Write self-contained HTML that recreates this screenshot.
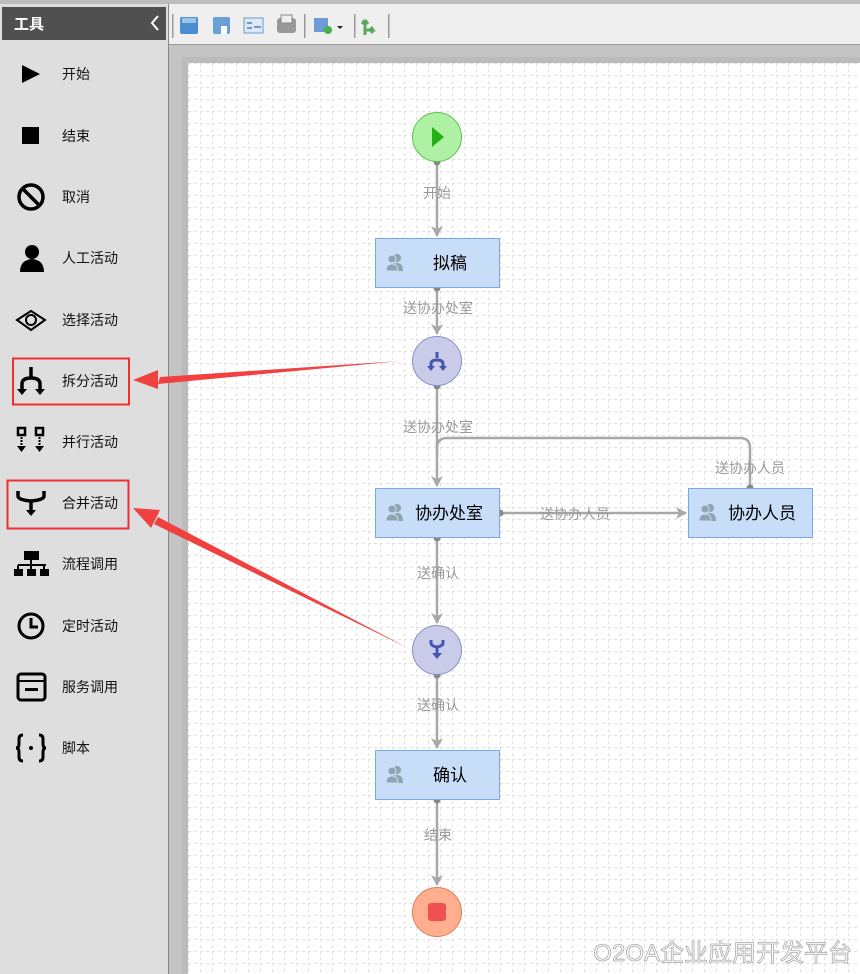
<!DOCTYPE html>
<html><head><meta charset="utf-8"><style>
html,body{margin:0;padding:0;width:860px;height:974px;overflow:hidden;font-family:"Liberation Sans","Noto Sans CJK SC",sans-serif;}
</style></head><body>
<svg width="860" height="974" viewBox="0 0 860 974" xmlns="http://www.w3.org/2000/svg" font-family="Liberation Sans, Noto Sans CJK SC, sans-serif">
<defs>
<pattern id="g" x="188" y="63" width="12" height="12" patternUnits="userSpaceOnUse">
<path d="M0 0.5H12M0.5 0V12" stroke="#e0e0e0" stroke-width="1" stroke-dasharray="3,3" fill="none"/>
</pattern>
<marker id="ar" markerWidth="12" markerHeight="12" refX="10" refY="6" orient="auto" markerUnits="userSpaceOnUse"><path d="M0 0L11 6L0 12L3 6Z" fill="#a8a8a8"/></marker>
</defs>
<rect width="860" height="974" fill="#dcdcdc"/>
<rect x="0" y="0" width="168" height="974" fill="#dedede"/>
<rect x="0" y="0" width="860" height="4" fill="#bdbdbd"/>
<rect x="2" y="7" width="164" height="33" fill="#505050"/>
<text x="14" y="29" font-size="15" font-weight="bold" fill="#fff">工具</text>
<path d="M158 16L152 23L158 30" stroke="#fff" stroke-width="2" fill="none"/>
<line x1="168.5" y1="4" x2="168.5" y2="974" stroke="#888"/>
<rect x="169" y="4" width="691" height="40" fill="#efefef"/>
<line x1="169" y1="44.5" x2="860" y2="44.5" stroke="#999"/>
<rect x="172" y="14" width="1.5" height="24" fill="#999"/>
<rect x="180" y="17" width="18" height="17" fill="#4a8ed0" rx="2"/><rect x="182" y="18" width="14" height="5" fill="#9cc4ea"/>
<rect x="213" y="17" width="17" height="17" fill="#6aa0d8" rx="2"/><rect x="221" y="26" width="6" height="8" fill="#fff"/>
<rect x="244" y="18" width="19" height="15" fill="#dfe9f5" stroke="#6a9ad0"/><rect x="247" y="22" width="5" height="2" fill="#6a9ad0"/><rect x="247" y="27" width="5" height="2" fill="#6a9ad0"/><rect x="254" y="26" width="7" height="2" fill="#6a9ad0"/>
<rect x="277" y="18" width="19" height="15" fill="#999" rx="3"/><rect x="281" y="15" width="11" height="8" fill="#eee" stroke="#888"/>
<rect x="304" y="14" width="1.5" height="24" fill="#999"/>
<rect x="314" y="18" width="14" height="14" fill="#6f9ad8"/><circle cx="328" cy="30" r="4" fill="#4caf50"/><path d="M337 26h6l-3 3z" fill="#222"/>
<rect x="354" y="14" width="1.5" height="24" fill="#999"/>
<path d="M365 35V20M365 20l-3 4M365 20l3 4M365 30h8l-2-3M373 30l-2 3" stroke="#5aa85a" stroke-width="3" fill="none"/>
<rect x="388" y="14" width="1.5" height="24" fill="#999"/>
<rect x="169" y="45" width="691" height="929" fill="#c4c4c4"/>
<rect x="182" y="57" width="678" height="917" fill="#b0b0b0" opacity="0.4"/>
<rect x="188" y="63" width="672" height="911" fill="#fff"/>
<rect x="188" y="63" width="672" height="911" fill="url(#g)"/>

<g font-size="14" fill="#111">
<path d="M22 65L40 74L22 83Z" fill="#000"/><text x="62" y="79">开始</text>
<rect x="22" y="127" width="17" height="17" fill="#000"/><text x="62" y="141">结束</text>
<circle cx="31" cy="197" r="12" stroke="#000" stroke-width="3.5" fill="none"/><line x1="23" y1="189" x2="39" y2="205" stroke="#000" stroke-width="3.5"/><text x="62" y="202">取消</text>
<circle cx="32" cy="252" r="7" fill="#000"/><path d="M20 272Q20 260 32 259Q44 260 44 272Z" fill="#000"/><text x="62" y="263">人工活动</text>
<path d="M17 320L31 311L45 320L31 330Z" stroke="#000" stroke-width="2" fill="none"/><circle cx="31" cy="320" r="5" stroke="#000" stroke-width="2" fill="none"/><text x="62" y="325">选择活动</text>
<path d="M31 367V377M22 391V384Q22 378 31 378Q40 378 40 384V391" stroke="#000" stroke-width="3.5" fill="none"/><path d="M17 389h10l-5 6zM35 389h10l-5 6z" fill="#000"/><text x="62" y="386">拆分活动</text>
<rect x="18" y="428" width="7" height="7" stroke="#000" stroke-width="2.5" fill="none"/><rect x="36" y="428" width="7" height="7" stroke="#000" stroke-width="2.5" fill="none"/><path d="M17 446h9l-4.5 6zM35 446h9l-4.5 6z" fill="#000"/><path d="M21.5 437v8M39.5 437v8" stroke="#000" stroke-width="2" stroke-dasharray="2,1"/><text x="62" y="447">并行活动</text>
<path d="M18 491V496Q18 500 31 501Q44 500 44 496V491M31 501V512" stroke="#000" stroke-width="3.5" fill="none"/><path d="M26 510h10l-5 6z" fill="#000"/><text x="62" y="508">合并活动</text>
<rect x="24" y="551" width="15" height="9" fill="#000"/><path d="M31 560v5M18 565h28M18 565v4M31 565v4M44 565v4" stroke="#000" stroke-width="2"/><rect x="14" y="569" width="9" height="7" fill="#000"/><rect x="27" y="569" width="9" height="7" fill="#000"/><rect x="40" y="569" width="9" height="7" fill="#000"/><text x="62" y="569">流程调用</text>
<circle cx="31" cy="626" r="12" stroke="#000" stroke-width="3" fill="none"/><path d="M31 618V627H38" stroke="#000" stroke-width="3" fill="none"/><text x="62" y="631">定时活动</text>
<rect x="18" y="674" width="27" height="26" rx="3" stroke="#000" stroke-width="3" fill="none"/><line x1="18" y1="681" x2="45" y2="681" stroke="#000" stroke-width="2"/><rect x="25" y="688" width="13" height="3" fill="#000"/><text x="62" y="692">服务调用</text>
<path d="M23 735Q19 735 19 739V744Q19 748 16 748Q19 748 19 752V757Q19 761 23 761M39 735Q43 735 43 739V744Q43 748 46 748Q43 748 43 752V757Q43 761 39 761" stroke="#000" stroke-width="3" fill="none"/><circle cx="31" cy="748" r="2" fill="#000"/><text x="62" y="753">脚本</text>
</g>
<rect x="13" y="358.5" width="116" height="46" stroke="#f03030" stroke-width="2" fill="none"/>
<rect x="7.5" y="480.5" width="121" height="48" stroke="#f03030" stroke-width="2" fill="none"/>

<g stroke="#a8a8a8" stroke-width="2.5" fill="none">
<line x1="437" y1="162" x2="437" y2="236" marker-end="url(#ar)"/>
<line x1="437" y1="288" x2="437" y2="334" marker-end="url(#ar)"/>
<line x1="437" y1="386" x2="437" y2="486" marker-end="url(#ar)"/>
<path d="M437 455V448Q437 438 447 438H740Q750 438 750 448V488"/>
<line x1="500" y1="513" x2="686" y2="513" marker-end="url(#ar)"/>
<line x1="437" y1="538" x2="437" y2="623" marker-end="url(#ar)"/>
<line x1="437" y1="675" x2="437" y2="748" marker-end="url(#ar)"/>
<line x1="437" y1="800" x2="437" y2="885" marker-end="url(#ar)"/>
</g>
<g fill="#888">
<circle cx="437" cy="162" r="3.5"/><circle cx="437" cy="288" r="3.5"/><circle cx="437" cy="386" r="3.5"/><circle cx="750" cy="488" r="3.5"/><circle cx="500" cy="513" r="3.5"/><circle cx="437" cy="538" r="3.5"/><circle cx="437" cy="675" r="3.5"/><circle cx="437" cy="800" r="3.5"/>
</g>
<g font-size="14" fill="#999" text-anchor="middle">
<text x="437" y="198">开始</text>
<text x="438" y="313">送协办处室</text>
<text x="438" y="432">送协办处室</text>
<text x="750" y="473">送协办人员</text>
<text x="575" y="519">送协办人员</text>
<text x="438" y="578">送确认</text>
<text x="438" y="710">送确认</text>
<text x="438" y="840">结束</text>
</g>

<circle cx="437" cy="137" r="24.5" fill="#aef0a4" stroke="#60c050"/><path d="M432 127L444 137L432 147Z" fill="#22b014"/>
<circle cx="437" cy="361" r="24.5" fill="#c8cce8" stroke="#8890c8"/><path d="M437 352V358M431 368V364Q431 360 437 360Q443 360 443 364V368" stroke="#4656b0" stroke-width="3" fill="none"/><path d="M427 366h8l-4 5zM439 366h8l-4 5z" fill="#4656b0"/>
<circle cx="437" cy="650" r="24.5" fill="#c8cce8" stroke="#8890c8"/><path d="M431 640V643Q431 646 437 647Q443 646 443 643V640M437 647V655" stroke="#4656b0" stroke-width="3" fill="none"/><path d="M432 653h10l-5 6z" fill="#4656b0"/>
<circle cx="437" cy="912" r="24.5" fill="#ffae90" stroke="#e07a58"/><rect x="428" y="903" width="18" height="18" rx="3" fill="#f05050"/>

<g font-size="17" fill="#000">
<rect x="375.5" y="238.5" width="124" height="49" fill="#c8ddf8" stroke="#7aa8e0"/><text x="433" y="269">拟稿</text>
<rect x="375.5" y="488.5" width="124" height="49" fill="#c8ddf8" stroke="#7aa8e0"/><text x="415" y="519">协办处室</text>
<rect x="688.5" y="488.5" width="124" height="49" fill="#c8ddf8" stroke="#7aa8e0"/><text x="728" y="519">协办人员</text>
<rect x="375.5" y="750.5" width="124" height="49" fill="#c8ddf8" stroke="#7aa8e0"/><text x="433" y="781">确认</text>
</g>
<g fill="#8fa4ae">
<g transform="translate(386,254)"><circle cx="11" cy="4" r="4"/><path d="M5 17Q5 9 11 9Q17 9 17 17Z"/><circle cx="6" cy="5" r="4" stroke="#c8ddf8"/><path d="M0 17Q0 10 6 10Q12 10 12 17Z" stroke="#c8ddf8"/></g>
<g transform="translate(386,504)"><circle cx="11" cy="4" r="4"/><path d="M5 17Q5 9 11 9Q17 9 17 17Z"/><circle cx="6" cy="5" r="4" stroke="#c8ddf8"/><path d="M0 17Q0 10 6 10Q12 10 12 17Z" stroke="#c8ddf8"/></g>
<g transform="translate(699,504)"><circle cx="11" cy="4" r="4"/><path d="M5 17Q5 9 11 9Q17 9 17 17Z"/><circle cx="6" cy="5" r="4" stroke="#c8ddf8"/><path d="M0 17Q0 10 6 10Q12 10 12 17Z" stroke="#c8ddf8"/></g>
<g transform="translate(386,766)"><circle cx="11" cy="4" r="4"/><path d="M5 17Q5 9 11 9Q17 9 17 17Z"/><circle cx="6" cy="5" r="4" stroke="#c8ddf8"/><path d="M0 17Q0 10 6 10Q12 10 12 17Z" stroke="#c8ddf8"/></g>
</g>

<path d="M400 361L160 377L158 384Z" fill="#f04040"/>
<path d="M133 380L158 370L158 389Z" fill="#f04040"/>
<path d="M408 648L158 517L154 524Z" fill="#f04040"/>
<path d="M133 508L160 510L151 528Z" fill="#f04040"/>

<text x="852" y="961" font-size="24" fill="#fff" stroke="#aaa" stroke-width="0.8" text-anchor="end">O2OA企业应用开发平台</text>
</svg>
</body></html>
